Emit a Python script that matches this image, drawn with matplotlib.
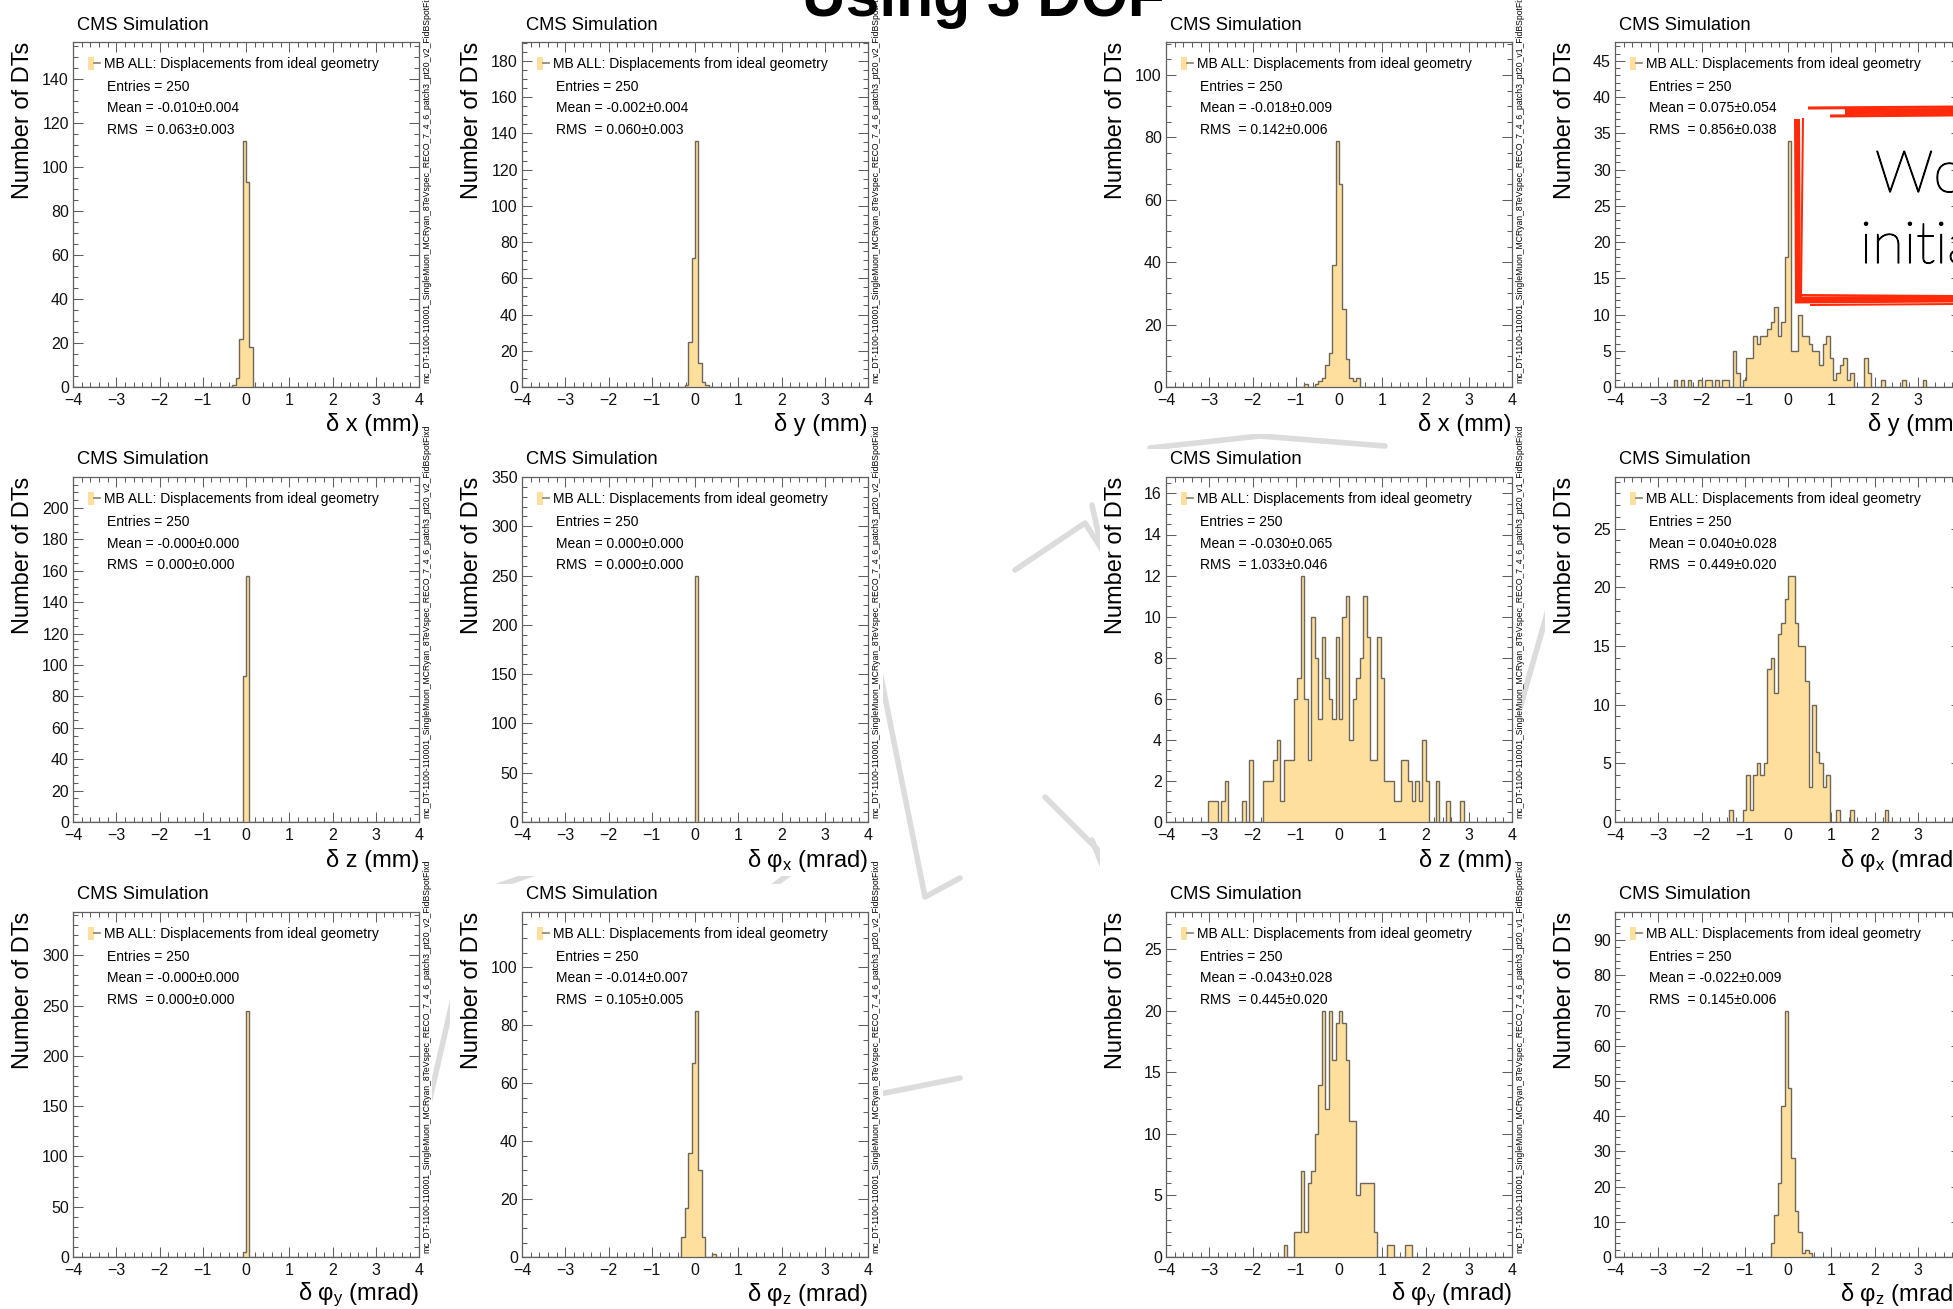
import numpy as np
import matplotlib
matplotlib.use("Agg")
import matplotlib.pyplot as plt
import matplotlib.patheffects as pe
from matplotlib.ticker import MultipleLocator
from matplotlib.patches import Rectangle, Patch
from matplotlib.lines import Line2D
from matplotlib.legend_handler import HandlerTuple

plt.rcParams["font.family"] = ["Liberation Sans", "DejaVu Sans"]
plt.rcParams["mathtext.fontset"] = "custom"
plt.rcParams["mathtext.rm"] = "Liberation Sans"
plt.rcParams["mathtext.it"] = "Liberation Sans"
plt.rcParams["mathtext.sf"] = "Liberation Sans"

# ---------------------------------------------------------------- data
bin_lo, bin_hi, n_bins = -4.0, 4.0, 100

# each histogram: index of first listed bin relative to the bin starting at 0, then counts
dx_v2_first, dx_v2_counts = -4, [1, 4, 22, 112, 93, 18]
dy_v2_first, dy_v2_counts = -3, [1, 25, 71, 136, 13, 3, 1]
dx_v1_first, dx_v1_counts = -10, [1, 0, 0, 1, 2, 3, 7, 11, 39, 79, 65, 25, 9, 3, 2, 3]
dy_v1_first, dy_v1_counts = -33, [1, 0, 1, 0, 1, 0, 0, 1, 0, 1, 1, 0, 1, 0, 1, 1, 0,
                                  5, 2, 0, 1, 4, 4, 7, 6, 7, 7, 8, 9, 11, 7, 9, 18,
                                  34, 5, 5, 10, 7, 7, 6, 5, 5, 3, 6, 7, 4, 1, 2, 3, 4, 1, 2,
                                  0, 0, 0, 4, 2, 0, 0, 0, 1, 0, 0, 0, 0, 0, 1, 0, 0, 0, 0, 0, 1]
dz_v2_first, dz_v2_counts = -1, [93, 157]
dphix_v2_first, dphix_v2_counts = 0, [250]
dz_v1_first, dz_v1_counts = -38, [1, 1, 1, 0, 1, 2, 0, 0, 0, 0, 1, 0, 3, 0, 0, 0,
                                  2, 2, 2, 3, 4, 1, 3, 3, 3,
                                  6, 7, 12, 6, 3, 10, 8, 5, 9, 7, 6, 5, 9,
                                  5, 10, 11, 4, 6, 7, 8, 11, 9, 3, 3, 9, 7,
                                  2, 2, 2, 1, 1, 3, 3, 2, 1, 2, 1, 4, 2, 0, 0, 2, 0, 0, 1, 0, 0, 0, 1]
dphix_v1_first, dphix_v1_counts = -17, [1, 0, 0, 0, 1, 4, 1, 4, 5, 4, 5, 13, 14, 11, 16, 17, 19,
                                        21, 21, 17, 15, 15, 12, 3, 10, 6, 5, 3, 4,
                                        0, 0, 1, 0, 0, 0, 1, 0, 0, 0, 0, 0, 0, 0, 0, 0, 1]
dphiy_v2_first, dphiy_v2_counts = -1, [5, 245]
dphiz_v2_first, dphiz_v2_counts = -4, [7, 17, 36, 67, 85, 30, 7, 0, 0, 1]
dphiy_v1_first, dphiy_v1_counts = -16, [1, 0, 0, 2, 2, 7, 2, 6, 7, 10, 14, 20, 12, 20, 16, 19,
                                        20, 19, 16, 11, 11, 5, 6, 6, 6, 6, 2,
                                        0, 0, 0, 1, 1, 0, 0, 0, 1, 1]
dphiz_v1_first, dphiz_v1_counts = -5, [4, 12, 21, 43, 70, 48, 28, 13, 7, 1, 2, 1]

x_titles = ["δ x (mm)", "δ y (mm)", "δ x (mm)", "δ y (mm)",
            "δ z (mm)", r"δ $\mathrm{φ}_{\mathrm{x}}$ (mrad)", "δ z (mm)", r"δ $\mathrm{φ}_{\mathrm{x}}$ (mrad)",
            r"δ $\mathrm{φ}_{\mathrm{y}}$ (mrad)", r"δ $\mathrm{φ}_{\mathrm{z}}$ (mrad)",
            r"δ $\mathrm{φ}_{\mathrm{y}}$ (mrad)", r"δ $\mathrm{φ}_{\mathrm{z}}$ (mrad)"]
entries = [250] * 12
means = ["-0.010±0.004", "-0.002±0.004", "-0.018±0.009", "0.075±0.054",
         "-0.000±0.000", "0.000±0.000", "-0.030±0.065", "0.040±0.028",
         "-0.000±0.000", "-0.014±0.007", "-0.043±0.028", "-0.022±0.009"]
rmss = ["0.063±0.003", "0.060±0.003", "0.142±0.006", "0.856±0.038",
        "0.000±0.000", "0.000±0.000", "1.033±0.046", "0.449±0.020",
        "0.000±0.000", "0.105±0.005", "0.445±0.020", "0.145±0.006"]
y_major = [20, 20, 20, 5, 20, 50, 2, 5, 50, 20, 5, 10]
sample_tags = ["mc_DT-1100-110001_SingleMuon_MCRyan_8TeVspec_RECO_7_4_6_patch3_pt20_v2_FidBSpotFixd",
               "mc_DT-1100-110001_SingleMuon_MCRyan_8TeVspec_RECO_7_4_6_patch3_pt20_v1_FidBSpotFixd"]

LEGEND_TEXT = "MB ALL: Displacements from ideal geometry"
CMS_LABEL = "CMS Simulation"
Y_TITLE = "Number of DTs"
SLIDE_TITLE = "Using 3 DOF"
NOTE_LINES = ["Work", "initial"]

panels = [
    (dx_v2_first, dx_v2_counts), (dy_v2_first, dy_v2_counts),
    (dx_v1_first, dx_v1_counts), (dy_v1_first, dy_v1_counts),
    (dz_v2_first, dz_v2_counts), (dphix_v2_first, dphix_v2_counts),
    (dz_v1_first, dz_v1_counts), (dphix_v1_first, dphix_v1_counts),
    (dphiy_v2_first, dphiy_v2_counts), (dphiz_v2_first, dphiz_v2_counts),
    (dphiy_v1_first, dphiy_v1_counts), (dphiz_v1_first, dphiz_v1_counts),
]

# ---------------------------------------------------------------- style
FILL = "#fedf9e"
EDGE = "#6e6759"
FRAME = "#5f5f5f"
WATERMARK = "#dcdcdc"
RED = "#ff2a0a"
MINOR_OF = {20: 5, 50: 10, 5: 1, 2: 0.5, 10: 2}

W, H = 1953, 1309
fig = plt.figure(figsize=(W / 100, H / 100), dpi=100)
fig.patch.set_facecolor("white")

col_left = [73, 522, 1166, 1615]
row_top = [42, 477, 912]
AX_W, AX_H = 346, 345

# canvases of the individual plots (opaque), with the slide watermark behind them
canvas_x = [(0, 432), (450, 883), (1100, 1522), (1545, 1990)]
canvas_y = [(0, 434), (449, 876), (884, 1309)]

bg = fig.add_axes([0, 0, 1, 1], zorder=0)
bg.set_xlim(0, W)
bg.set_ylim(H, 0)
bg.axis("off")

watermark_paths = [
    [(1015, 570), (1085, 523), (1160, 640), (1170, 700)],
    [(880, 672), (925, 897), (960, 878)],
    [(1045, 797), (1120, 872)],
    [(870, 1096), (960, 1078)],
    [(1150, 448), (1260, 436), (1385, 446)],
    [(1548, 610), (1518, 715)],
    [(455, 990), (425, 1120)],
    [(480, 892), (550, 868)],
    [(765, 892), (800, 866)],
    [(1092, 505), (1102, 550)],
    [(1092, 840), (1102, 865)],
]
for path in watermark_paths:
    xs, ys = zip(*path)
    bg.plot(xs, ys, color=WATERMARK, lw=4, solid_capstyle="round", zorder=1)

for (x0, x1) in canvas_x:
    for (y0, y1) in canvas_y:
        bg.add_patch(Rectangle((x0, y0), x1 - x0, y1 - y0, facecolor="white",
                               edgecolor="none", zorder=2))

edges = np.linspace(bin_lo, bin_hi, n_bins + 1)


def full_counts(first, counts):
    arr = np.zeros(n_bins)
    i0 = n_bins // 2 + first
    arr[i0:i0 + len(counts)] = counts
    return arr


for i, (first, counts) in enumerate(panels):
    r, c = divmod(i, 4)
    left = col_left[c] / W
    bottom = 1 - (row_top[r] + AX_H) / H
    ax = fig.add_axes([left, bottom, AX_W / W, AX_H / H], zorder=2)
    ax.set_facecolor("white")

    values = full_counts(first, counts)
    ax.stairs(values, edges, fill=True, color=FILL, zorder=2)
    ax.stairs(values, edges, color=EDGE, lw=1.0, baseline=0, zorder=3)

    ax.set_xlim(bin_lo, bin_hi)
    ax.set_ylim(0, 1.4 * values.max())

    ax.xaxis.set_major_locator(MultipleLocator(1))
    ax.xaxis.set_minor_locator(MultipleLocator(0.2))
    ax.yaxis.set_major_locator(MultipleLocator(y_major[i]))
    ax.yaxis.set_minor_locator(MultipleLocator(MINOR_OF[y_major[i]]))
    ax.tick_params(which="both", direction="in", top=True, right=True,
                   color=FRAME, width=0.75, labelsize=11.5, labelcolor="#111111")
    ax.tick_params(which="major", length=7.5)
    ax.tick_params(which="minor", length=3.8)
    ax.tick_params(axis="y", pad=3)
    ax.tick_params(axis="x", pad=4)
    for sp in ax.spines.values():
        sp.set_color(FRAME)
        sp.set_linewidth(0.9)

    # axis titles in the usual ROOT placement
    ax.text(1.0, -38 / AX_H, x_titles[i], transform=ax.transAxes, ha="right",
            va="center", fontsize=17, clip_on=False)
    ax.text(-50 / AX_W, 1.0, Y_TITLE, transform=ax.transAxes, rotation=90,
            ha="center", va="top", fontsize=17, clip_on=False)
    ax.text(4 / AX_W, 1 + 17 / AX_H, CMS_LABEL, transform=ax.transAxes,
            ha="left", va="center", fontsize=13.2, clip_on=False)
    ax.text(1 + 8 / AX_W, 4 / AX_H, sample_tags[0 if c < 2 else 1], transform=ax.transAxes,
            rotation=90, ha="center", va="bottom", fontsize=6.2, clip_on=False)

    handle = (Patch(facecolor=FILL, edgecolor="none"), Line2D([], [], color="#8a7f6a", lw=1.2))
    ax.legend([handle], [LEGEND_TEXT], handler_map={tuple: HandlerTuple(ndivide=None, pad=0)},
              loc="upper left", bbox_to_anchor=(15 / AX_W, 1 - 15 / AX_H), frameon=False,
              borderpad=0, borderaxespad=0, handlelength=0.85, handleheight=1.05,
              handletextpad=0.3, fontsize=10)

    stats = [f"Entries = {entries[i]}", f"Mean = {means[i]}", f"RMS  = {rmss[i]}"]
    for j, line in enumerate(stats):
        ax.text(34 / AX_W, 1 - (45 + 21.5 * j) / AX_H, line, transform=ax.transAxes,
                ha="left", va="center", fontsize=10)

# overlay: slide title and the hand-drawn note box
fg = fig.add_axes([0, 0, 1, 1], zorder=10)
fg.set_xlim(0, W)
fg.set_ylim(H, 0)
fg.axis("off")
fg.patch.set_alpha(0)

fg.text(983, 16, SLIDE_TITLE, ha="center", va="baseline", fontsize=43.6,
        fontweight="bold", color="black")

box_strokes = [
    ([(1808, 108), (1953, 107)], 3),
    ([(1845, 112), (1953, 111)], 6),
    ([(1830, 116), (1953, 115)], 3),
    ([(1797, 119), (1798, 302)], 6),
    ([(1803, 118), (1801, 298)], 2),
    ([(1795, 300), (1953, 299)], 7),
    ([(1800, 295), (1953, 296)], 2),
    ([(1810, 305), (1953, 304)], 2),
]
for pts, lw in box_strokes:
    xs, ys = zip(*pts)
    fg.plot(xs, ys, color=RED, lw=lw * 0.72, solid_capstyle="butt")

for txt, (tx, ty) in zip(NOTE_LINES, [(1875, 192), (1860, 263)]):
    fg.text(tx, ty, txt, ha="left", va="baseline", fontsize=42,
            family=["Lato", "Open Sans", "DejaVu Sans"], fontweight="light", color="black",
            path_effects=[pe.withStroke(linewidth=0.9, foreground="black")])

fig.savefig("out.png", dpi=100, facecolor="white")
